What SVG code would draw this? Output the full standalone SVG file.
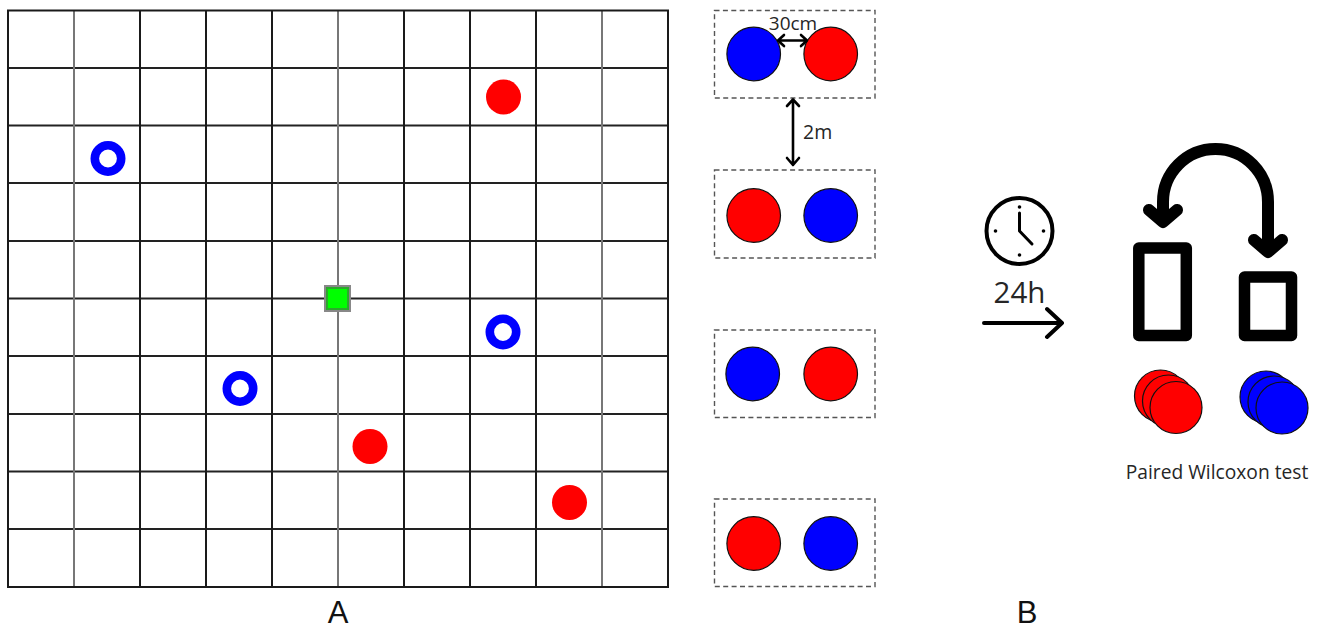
<svg xmlns="http://www.w3.org/2000/svg" width="1321" height="630" viewBox="0 0 1321 630">
<style>
text{font-family:"Open Sans","Noto Sans","DejaVu Sans",sans-serif;fill:#262626}
.d{stroke:#1a1a1a;stroke-width:2;fill:none}
.g{stroke:#777;stroke-width:2;fill:none}
.h{stroke:#222;stroke-width:1.8;fill:none}
.red{fill:#f00;stroke:#111;stroke-width:1.2}
.blue{fill:#00f;stroke:#111;stroke-width:1.2}
.mr{fill:#f00}
.ring{fill:#fff;stroke:#00f;stroke-width:8.600}
.box{fill:none;stroke:#555;stroke-width:1.4;stroke-dasharray:5 3.4}
.arr{fill:none;stroke:#000;stroke-width:2.6;stroke-linecap:round;stroke-linejoin:round}
.big{fill:none;stroke:#000;stroke-width:12;stroke-linecap:round;stroke-linejoin:round}
.bar{fill:#fff;stroke:#000;stroke-width:11.5;stroke-linejoin:round}
</style>
<rect width="1321" height="630" fill="#fff"/>
<g id="grid">
<path class="h" d="M8 68H668M8 125.500H668M8 183H668M8 241H668M8 298.500H668M8 356H668M8 414H668M8 471.500H668M8 529H668"/>
<path class="g" d="M74 10V587M338 10V587M602 10V587"/>
<path class="d" d="M140 10V587M206 10V587M272 10V587M404 10V587M470 10V587M536 10V587"/>
<rect class="d" x="8" y="10.500" width="660" height="576.500"/>
</g>
<g id="marker-red-1"><circle class="mr" cx="503.500" cy="97" r="17.500"/></g>
<g id="marker-red-2"><circle class="mr" cx="370" cy="446.500" r="17.500"/></g>
<g id="marker-red-3"><circle class="mr" cx="569.500" cy="502.500" r="17.500"/></g>
<g id="marker-ring-1"><circle class="ring" cx="108" cy="158.500" r="13.200"/></g>
<g id="marker-ring-2"><circle class="ring" cx="503" cy="332" r="13.200"/></g>
<g id="marker-ring-3"><circle class="ring" cx="240" cy="388.500" r="13.200"/></g>
<g id="center-square">
<rect x="325" y="286" width="25" height="25" fill="#2ca82c" stroke="#888" stroke-width="2"/>
<rect x="328" y="289" width="19" height="19" fill="#0f0"/>
</g>
<g id="pair-1">
<rect class="box" x="714.500" y="10.500" width="160.500" height="87.500"/>
<circle class="blue" cx="753.700" cy="54" r="26.800"/>
<circle class="red" cx="830.700" cy="54" r="26.800"/>
</g>
<g id="pair-2">
<rect class="box" x="714.500" y="170" width="160.500" height="88"/>
<circle class="red" cx="753.700" cy="215.500" r="26.800"/>
<circle class="blue" cx="830.700" cy="215.500" r="26.800"/>
</g>
<g id="pair-3">
<rect class="box" x="714.500" y="330" width="160.500" height="87.500"/>
<circle class="blue" cx="752.700" cy="374" r="26.800"/>
<circle class="red" cx="830.700" cy="374" r="26.800"/>
</g>
<g id="pair-4">
<rect class="box" x="714.500" y="499" width="160.500" height="87.500"/>
<circle class="red" cx="753.700" cy="543.500" r="26.800"/>
<circle class="blue" cx="830.700" cy="543.500" r="26.800"/>
</g>
<g id="connectors">
<path class="arr" d="M778 40.500H807M784 35L778 40.500L784 46M801 35L807 40.500L801 46"/>
<path class="arr" d="M793 99.500V165M787 106L793 99.500L799 106M787 158L793 165L799 158"/>
<path fill="none" stroke="#000" stroke-width="4" stroke-linecap="round" stroke-linejoin="round" d="M984 323H1062M1047 309L1062 323L1047 337"/>
<path class="big" d="M1163 220V202A52.500 53 0 0 1 1268 202V250M1149 210L1163 222L1177 210M1254 240L1268 252L1282 240"/>
</g>
<text x="793" y="30" font-size="19" text-anchor="middle">30cm</text>
<text x="803" y="139" font-size="19.500">2m</text>
<g id="clock">
<circle cx="1019.500" cy="231" r="33" fill="#fff" stroke="#000" stroke-width="4"/>
<path d="M1019.500 213V231L1032 244" fill="none" stroke="#000" stroke-width="3" stroke-linecap="round" stroke-linejoin="round"/>
<circle cx="1019.500" cy="207" r="1.800"/><circle cx="1019.500" cy="255" r="1.800"/><circle cx="995.500" cy="231" r="1.800"/><circle cx="1043.500" cy="231" r="1.800"/>
</g>
<text x="1019.500" y="302.500" font-size="29.500" text-anchor="middle">24h</text>
<g id="bar-left"><rect class="bar" x="1138.800" y="248" width="47.500" height="87.500"/></g>
<g id="bar-right"><rect class="bar" x="1244.500" y="277" width="47" height="58.500"/></g>
<g id="stack-red">
<circle class="red" cx="1160.500" cy="396" r="26"/>
<circle class="red" cx="1168.500" cy="401" r="26"/>
<circle class="red" cx="1176" cy="407.500" r="26"/>
</g>
<g id="stack-blue">
<circle class="blue" cx="1266" cy="397" r="26"/>
<circle class="blue" cx="1274" cy="402" r="26"/>
<circle class="blue" cx="1282" cy="408" r="26"/>
</g>
<text x="1217" y="478.500" font-size="19.200" text-anchor="middle">Paired Wilcoxon test</text>
<text x="338" y="623" font-size="31" text-anchor="middle" style="font-family:'Liberation Sans',sans-serif;fill:#111">A</text>
<text x="1027" y="623" font-size="31" text-anchor="middle" style="font-family:'Liberation Sans',sans-serif;fill:#111">B</text>
</svg>
